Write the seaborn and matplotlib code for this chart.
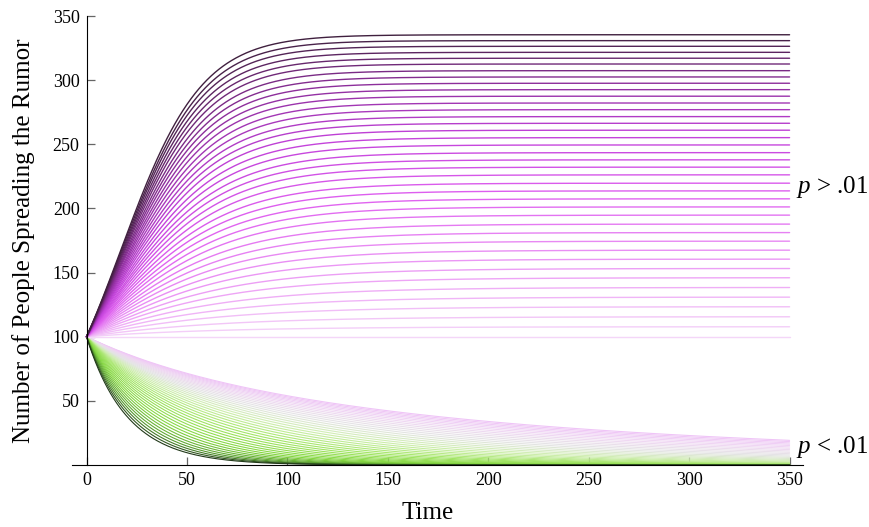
import numpy as np
import pandas as pd
import matplotlib
matplotlib.use("Agg")
import matplotlib.pyplot as plt
import seaborn as sns
from matplotlib.colors import LinearSegmentedColormap

# ---------------- data ----------------
initial_spreaders = 100
time_end = 350

# p > .01 : plateau level of every curve (bottom -> top) and its growth rate
upper_plateau = [100.0, 107.8, 115.6, 123.4, 130.9, 138.4, 146.0, 153.2, 160.5, 167.5,
                 174.5, 181.2, 187.8, 194.8, 201.2, 207.5, 213.7, 219.7, 226.2, 232.2,
                 237.9, 243.5, 249.5, 255.2, 261.0, 266.4, 271.6, 277.0, 282.2, 287.5,
                 292.6, 297.6, 302.5, 307.4, 312.6, 317.1, 321.7, 326.4, 330.8, 335.4]
upper_rate = [0.0149, 0.0161, 0.0172, 0.0184, 0.0195, 0.0206, 0.0218, 0.0228, 0.0239, 0.0250,
              0.0260, 0.0270, 0.0280, 0.0290, 0.0300, 0.0309, 0.0319, 0.0328, 0.0337, 0.0346,
              0.0355, 0.0363, 0.0372, 0.0380, 0.0389, 0.0397, 0.0405, 0.0413, 0.0421, 0.0429,
              0.0436, 0.0444, 0.0451, 0.0458, 0.0466, 0.0473, 0.0480, 0.0487, 0.0493, 0.0500]

# p < .01 : decay rate of every curve (lightest -> darkest) and the shared crowding term
lower_rate = [0.00250, 0.00269, 0.00290, 0.00312, 0.00336, 0.00362, 0.00390, 0.00420, 0.00452, 0.00487,
              0.00525, 0.00565, 0.00608, 0.00655, 0.00706, 0.00760, 0.00818, 0.00881, 0.00949, 0.01022,
              0.01101, 0.01185, 0.01277, 0.01375, 0.01481, 0.01594, 0.01717, 0.01849, 0.01991, 0.02145,
              0.02310, 0.02487, 0.02679, 0.02885, 0.03107, 0.03346, 0.03603, 0.03880, 0.04179, 0.04500]
lower_crowding = 0.00005

x_ticks = [0, 50, 100, 150, 200, 250, 300, 350]
y_ticks = [50, 100, 150, 200, 250, 300, 350]
label_up = "$p$ > .01"
label_down = "$p$ < .01"

# ---------------- build the curves ----------------
t = np.linspace(0, time_end, 701)
rows_up = []
for i, (K, r) in enumerate(zip(upper_plateau, upper_rate)):
    n = K / (1 + (K / initial_spreaders - 1) * np.exp(-r * t))
    rows_up.append(pd.DataFrame({"t": t, "N": n, "curve": f"u{i:02d}"}))
df_up = pd.concat(rows_up, ignore_index=True)

rows_dn = []
for i, a in enumerate(lower_rate):
    e = np.exp(-a * t)
    n = a * initial_spreaders * e / (a + lower_crowding * initial_spreaders * (1 - e))
    rows_dn.append(pd.DataFrame({"t": t, "N": n, "curve": f"d{i:02d}"}))
df_dn = pd.concat(rows_dn, ignore_index=True)

cmap_up = LinearSegmentedColormap.from_list(
    "up", [(0.0, "#f4d6f8"), (0.15, "#eea6f6"), (0.4, "#df60f0"),
           (0.6, "#c242da"), (0.8, "#8c2e9a"), (1.0, "#40203f")])
cmap_dn = LinearSegmentedColormap.from_list(
    "dn", [(0.0, "#efc4f7"), (0.15, "#efd8f2"), (0.3, "#e4e4e4"), (0.45, "#cfeeb0"),
           (0.6, "#a6e66a"), (0.8, "#84d640"), (0.92, "#5aa030"), (1.0, "#223a1a")])
pal_up = {f"u{i:02d}": cmap_up(i / 39) for i in range(40)}
pal_dn = {f"d{i:02d}": cmap_dn(i / 39) for i in range(40)}

# ---------------- plot ----------------
sns.set_theme(style="white")
plt.rcParams["font.family"] = ["Liberation Serif", "DejaVu Serif"]
plt.rcParams["mathtext.fontset"] = "custom"
plt.rcParams["mathtext.it"] = "Liberation Serif:italic"
plt.rcParams["mathtext.rm"] = "Liberation Serif"
plt.rcParams["text.color"] = "black"

fig = plt.figure(figsize=(8.7, 5.27), dpi=100)
ax = fig.add_axes([0.0826, 0.1176, 0.8402, 0.852])

sns.lineplot(data=df_dn, x="t", y="N", hue="curve", palette=pal_dn, legend=False,
             estimator=None, sort=False, linewidth=0.8, ax=ax)
sns.lineplot(data=df_up, x="t", y="N", hue="curve", palette=pal_up, legend=False,
             estimator=None, sort=False, linewidth=1.0, ax=ax)

ax.set_xlim(-7.3, 356.6)
ax.set_ylim(0, 350)
ax.set_xticks(x_ticks)
ax.set_yticks(y_ticks)
ax.tick_params(axis="both", which="major", bottom=True, left=True, direction="in",
               length=5.5, width=0.9, color="#666666", labelsize=13,
               labelcolor="black", pad=5)

for s in ["top", "right"]:
    ax.spines[s].set_visible(False)
ax.spines["left"].set_position(("data", 0))
ax.spines["left"].set_bounds(0, 350)
for s in ["left", "bottom"]:
    ax.spines[s].set_color("black")
    ax.spines[s].set_linewidth(0.8)
    ax.spines[s].set_zorder(3)

ax.set_xlabel("Time", fontsize=18, color="black")
ax.set_ylabel("Number of People Spreading the Rumor", fontsize=18, color="black")
ax.xaxis.set_label_coords(0.487, -0.083)
ax.yaxis.set_label_coords(-0.05, 0.5)

ax.text(353, 216.7, label_up, fontsize=18, ha="left", va="center", color="black")
ax.text(353, 14.0, label_down, fontsize=18, ha="left", va="center", color="black")

fig.savefig("out.png", dpi=100, facecolor="white")
